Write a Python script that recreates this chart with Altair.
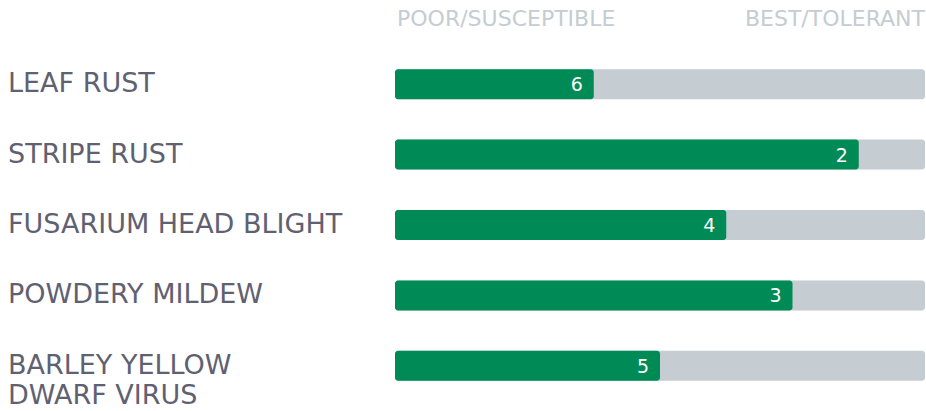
import altair as alt
import pandas as pd

diseases = ["LEAF RUST", "STRIPE RUST", "FUSARIUM HEAD BLIGHT", "POWDERY MILDEW", "BARLEY YELLOW\nDWARF VIRUS"]
scores = [6, 2, 4, 3, 5]
scale_worst = 9
scale_best = 1
header_left = "POOR/SUSCEPTIBLE"
header_right = "BEST/TOLERANT"

df = pd.DataFrame({
    "disease": diseases,
    "score": scores,
    "worst": [scale_worst] * len(diseases),
    "best": [scale_best] * len(diseases),
})
hdr = pd.DataFrame({"label": [header_left, header_right], "pos": [scale_worst, scale_best],
                    "align": ["left", "right"]})

GREEN = "#008B56"
TRACK = "#C5CCD2"
TEXT = "#5F6171"
FONT = "DejaVu Sans"

xs = alt.Scale(domain=[scale_worst, scale_best], range=[395, 925])
ys = alt.Scale(domain=diseases, range=[49, 401], paddingInner=0, paddingOuter=0)

base = alt.Chart(df)
y = alt.Y("disease:N", scale=ys, axis=None, sort=diseases)

track = base.mark_bar(color=TRACK, cornerRadius=3, size=30).encode(
    x=alt.X("worst:Q", scale=xs, axis=None), x2="best:Q", y=y)
bar = base.mark_bar(color=GREEN, cornerRadius=3, size=30).encode(
    x=alt.X("worst:Q", scale=xs, axis=None), x2="score:Q", y=y)
nums = base.mark_text(color="white", font=FONT, fontSize=19, align="right", baseline="middle",
                      dx=-11, dy=1).encode(
    x=alt.X("score:Q", scale=xs, axis=None), y=y, text="score:Q")
labels = base.mark_text(color=TEXT, font=FONT, fontSize=27, align="left", baseline="alphabetic",
                        dy=8, lineBreak="\n", lineHeight=30).encode(
    x=alt.value(8), y=y, text="disease:N")

hdr_l = alt.Chart(hdr).transform_filter("datum.align == 'left'").mark_text(
    color=TRACK, font=FONT, fontSize=22, align="left", baseline="alphabetic", dx=2).encode(
    x=alt.X("pos:Q", scale=xs, axis=None), y=alt.value(26), text="label:N")
hdr_r = alt.Chart(hdr).transform_filter("datum.align == 'right'").mark_text(
    color=TRACK, font=FONT, fontSize=22, align="right", baseline="alphabetic").encode(
    x=alt.X("pos:Q", scale=xs, axis=None), y=alt.value(26), text="label:N")

chart = alt.layer(track, bar, nums, labels, hdr_l, hdr_r).properties(
    width=926, height=411, padding=0, autosize=alt.AutoSizeParams(type="none"),
    background="white"
).configure_view(stroke=None)

chart.save("out.html", embed_options={"renderer": "svg", "actions": False})
